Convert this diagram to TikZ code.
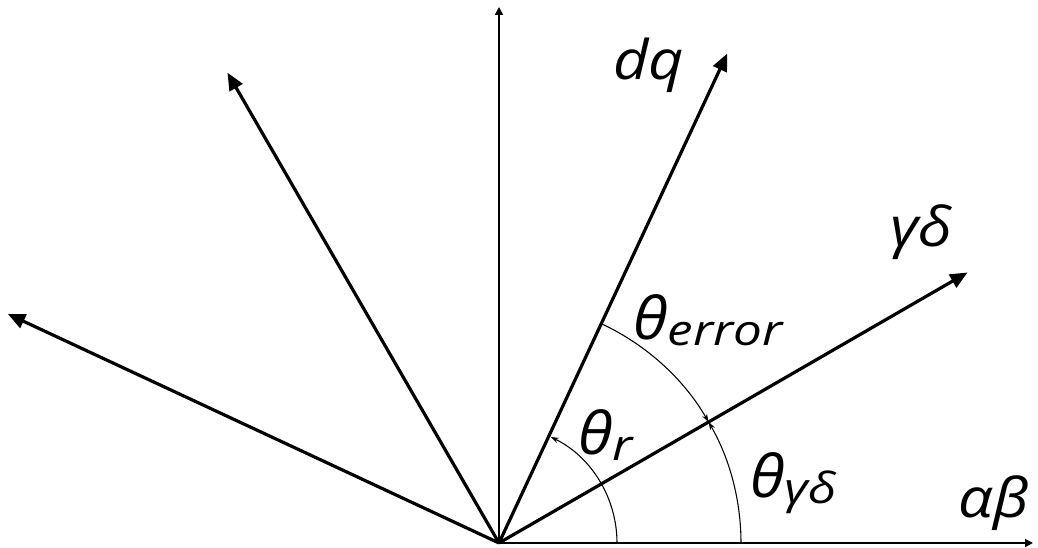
\documentclass[tikz,border=0pt]{standalone}
\usepackage{fontspec}
\setmainfont{Open Sans}
\usetikzlibrary{arrows.meta}
\newcommand{\bigtxt}[1]{\scalebox{1.12}[1]{\fontsize{41}{41}\selectfont #1}}
\newcommand{\thtxt}{\scalebox{1.08}[1]{\fontsize{44}{44}\selectfont θ}}
\newcommand{\smltxt}[1]{\raisebox{-4pt}{\scalebox{1.2}[1]{\fontsize{32}{32}\selectfont #1}}}
\tikzset{
  thickvec/.style={line width=2.4pt,-{Triangle[length=13pt,width=11pt]}},
  axis/.style={line width=1.3pt,-{Triangle[length=6pt,width=6pt]}},
  anglearc/.style={line width=0.8pt,-{Stealth[length=6pt,width=4pt]}},
  lbl/.style={inner sep=0pt,anchor=base west,font=\itshape}
}
\begin{document}
\begin{tikzpicture}[x=0.75pt,y=0.75pt]
\useasboundingbox (-499,-5) rectangle (539,543);
\coordinate (O) at (0,0);
\coordinate (tA) at (0:534);
\coordinate (tB) at (30:541);
\coordinate (tC) at (65:540);
\coordinate (tD) at (90:536);
\coordinate (tE) at (120:543);
\coordinate (tF) at (155:542);
\draw[axis] (O) -- (tA);
\draw[axis] (O) -- (tD);
\draw[thickvec] (O) -- (tB);
\draw[thickvec] (O) -- (tC);
\draw[thickvec] (O) -- (tE);
\draw[thickvec] (O) -- (tF);
\coordinate (a1) at (0:242);
\coordinate (a2) at (65:242);
\coordinate (a3) at (0:118);
\draw[anglearc] (a1) arc[start angle=0,end angle=30,radius=181.5pt];
\draw[anglearc] (a2) arc[start angle=65,end angle=30,radius=181.5pt];
\draw[anglearc] (a3) arc[start angle=0,end angle=64,radius=88.5pt];
\node[lbl] (ldq) at (114,463) {\bigtxt{dq}};
\node[lbl] (lgd) at (391,296) {\bigtxt{γδ}};
\node[lbl] (lab) at (459,25) {\bigtxt{αβ}};
\node[lbl] (lerr) at (134,203) {\thtxt\smltxt{error}};
\node[lbl] (lr) at (79,88) {\thtxt\smltxt{r}};
\node[lbl] (lthgd) at (251,45) {\thtxt\smltxt{γδ}};
\end{tikzpicture}
\end{document}
